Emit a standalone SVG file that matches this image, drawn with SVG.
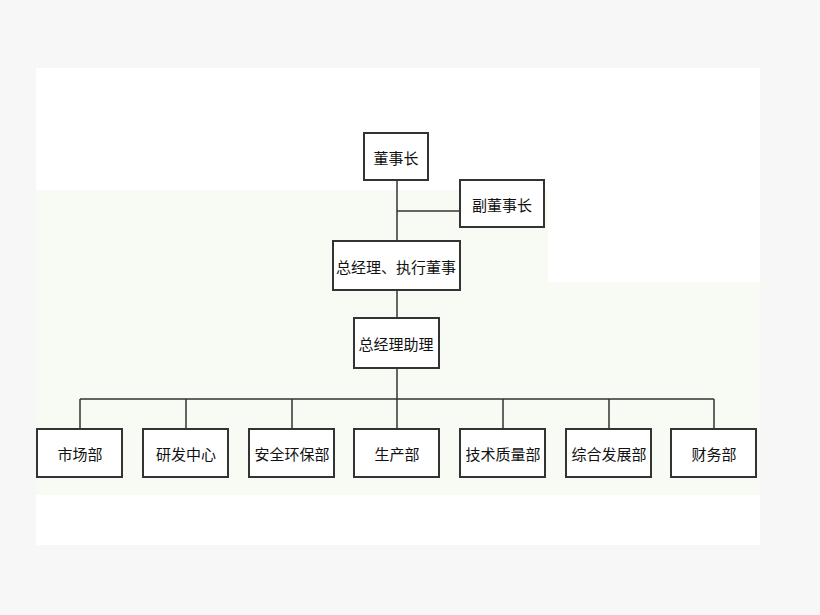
<svg xmlns="http://www.w3.org/2000/svg" width="820" height="615" viewBox="0 0 820 615">
<style>
.n rect{fill:#fff;stroke:#333;stroke-width:2}
.n text{font-family:"Noto Sans CJK SC","Liberation Sans",sans-serif;font-size:15px;fill:#111;text-anchor:middle;dominant-baseline:central}
#c path{fill:none;stroke:#333;stroke-width:1.5}
</style>
<rect width="820" height="615" fill="#f7f7f7"/>
<rect x="36" y="68" width="724" height="477" fill="#fff"/>
<path d="M36 190H548V282H760V495H36Z" fill="#f8faf4"/>
<g id="c">
<path d="M397 180V241M397 211H460M397 290V318M397 368V399M80 399H714M80 399V429M186 399V429M292 399V429M397 399V429M503 399V429M609 399V429M714 399V429"/>
</g>
<g id="n1" class="n"><rect x="364" y="133" width="64" height="47"/><text x="396" y="157">董事长</text></g>
<g id="n2" class="n"><rect x="460" y="180" width="84" height="47"/><text x="502" y="204">副董事长</text></g>
<g id="n3" class="n"><rect x="333" y="241" width="127" height="49"/><text x="396" y="266">总经理、执行董事</text></g>
<g id="n4" class="n"><rect x="354" y="318" width="85" height="50"/><text x="396" y="343">总经理助理</text></g>
<g id="d1" class="n"><rect x="37" y="429" width="85" height="48"/><text x="80" y="453">市场部</text></g>
<g id="d2" class="n"><rect x="143" y="429" width="85" height="48"/><text x="186" y="453">研发中心</text></g>
<g id="d3" class="n"><rect x="249" y="429" width="85" height="48"/><text x="292" y="453">安全环保部</text></g>
<g id="d4" class="n"><rect x="354" y="429" width="85" height="48"/><text x="397" y="453">生产部</text></g>
<g id="d5" class="n"><rect x="460" y="429" width="85" height="48"/><text x="503" y="453">技术质量部</text></g>
<g id="d6" class="n"><rect x="566" y="429" width="85" height="48"/><text x="609" y="453">综合发展部</text></g>
<g id="d7" class="n"><rect x="671" y="429" width="85" height="48"/><text x="714" y="453">财务部</text></g>
</svg>
